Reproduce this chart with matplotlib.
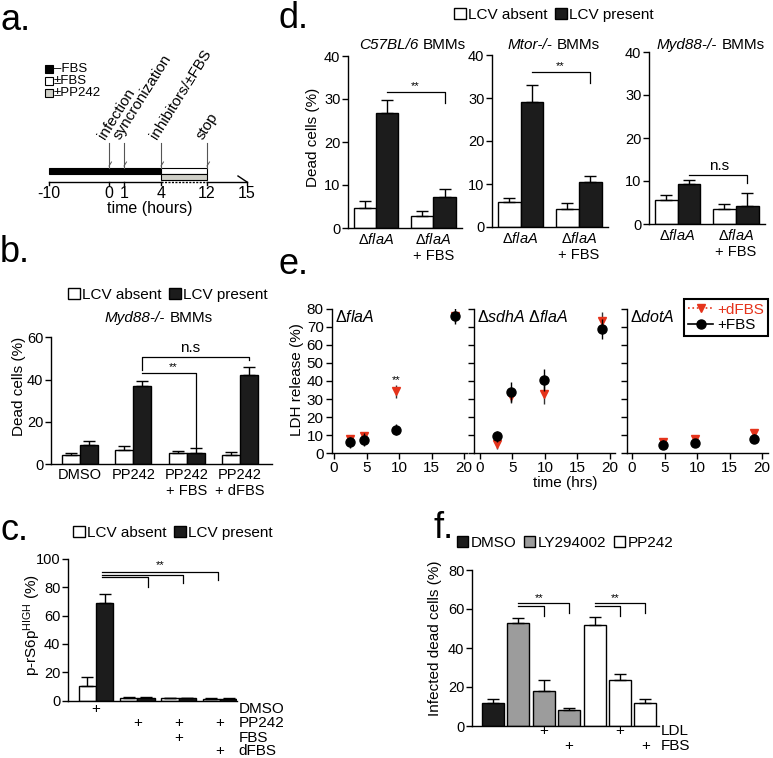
import numpy as np
import matplotlib
matplotlib.use('Agg')
import matplotlib.pyplot as plt
from matplotlib.patches import Patch, Rectangle
from matplotlib.lines import Line2D

plt.rcParams['font.family'] = ['Liberation Sans', 'DejaVu Sans']
plt.rcParams['mathtext.fontset'] = 'custom'
plt.rcParams['mathtext.rm'] = 'Liberation Sans'
plt.rcParams['mathtext.it'] = 'Liberation Sans:italic'
plt.rcParams['mathtext.bf'] = 'Liberation Sans:bold'
plt.rcParams['font.size'] = 10
plt.rcParams['axes.linewidth'] = 1.0

# ---------------- data ----------------
# a. timeline
time_ticks = [-10, 0, 1, 4, 12, 15]
event_times = [0, 1, 4, 12]
event_labels = ['infection', 'syncronization', 'inhibitors/±FBS', 'stop']
phase_labels = ['–FBS', '±FBS', '±PP242']

# b. Myd88-/- BMMs
b_groups = ['DMSO', 'PP242', 'PP242\n+ FBS', 'PP242\n+ dFBS']
b_absent = [4.4, 6.8, 5.2, 4.4]
b_absent_err = [1.1, 2.0, 1.1, 1.6]
b_present = [9.1, 37.2, 5.2, 42.2]
b_present_err = [1.9, 2.3, 2.4, 3.6]

# c. p-rS6p high
c_absent = [10.6, 2.0, 1.6, 1.3]
c_absent_err = [5.8, 0.5, 0.5, 0.4]
c_present = [68.5, 2.0, 1.6, 1.3]
c_present_err = [6.4, 0.8, 0.6, 0.5]
c_rows = ['DMSO', 'PP242', 'FBS', 'dFBS']
c_plus = [[1, 0, 0, 0], [0, 1, 1, 1], [0, 0, 1, 0], [0, 0, 0, 1]]

# d. three genotypes
d_strains = ['C57BL/6', 'Mtor-/-', 'Myd88-/-']
d_groups = ['Δ$\\mathit{flaA}$', 'Δ$\\mathit{flaA}$\n+ FBS']
d_absent = [[4.7, 2.7], [5.7, 4.3], [5.6, 3.6]]
d_absent_err = [[1.6, 1.3], [1.1, 1.3], [1.2, 1.0]]
d_present = [[26.7, 7.1], [29.1, 10.4], [9.4, 4.3]]
d_present_err = [[3.0, 2.0], [3.9, 1.5], [0.9, 3.0]]
d_sig = ['**', '**', 'n.s']

# e. LDH release
e_titles = ['Δ$\\mathit{flaA}$', 'Δ$\\mathit{sdhA}$ Δ$\\mathit{flaA}$', 'Δ$\\mathit{dotA}$']
e_time = [[2.4, 4.6, 9.6, 18.6], [2.6, 4.8, 9.8, 18.8], [4.7, 9.7, 18.7]]
e_fbs = [[5.9, 7.4, 13.0, 76.0], [9.3, 33.9, 40.7, 68.9], [4.6, 5.6, 7.8]]
e_fbs_err = [[3.2, 3.5, 3.0, 4.5], [3.0, 5.5, 6.0, 5.5], [2.5, 2.0, 2.5]]
e_dfbs = [[8.0, 9.3, 34.3, 76.0], [5.0, 31.9, 32.8, 73.1], [5.9, 7.8, 11.1]]
e_dfbs_err = [[2.0, 1.5, 3.5, 3.0], [3.0, 4.0, 5.5, 5.5], [2.0, 2.0, 1.5]]

# f. infected dead cells
f_treat = ['DMSO', 'LY294002', 'LY294002', 'LY294002', 'PP242', 'PP242', 'PP242']
f_vals = [11.8, 52.6, 18.0, 8.0, 52.0, 23.5, 11.8]
f_err = [2.2, 2.9, 5.8, 1.2, 4.0, 3.0, 2.2]
f_rows = ['LDL', 'FBS']
f_plus = [[0, 0, 1, 0, 0, 1, 0], [0, 0, 0, 1, 0, 0, 1]]

RED = '#e5331b'
BLK = '#1c1c1c'
GRAY = '#9c9c9c'
treat_color = {'DMSO': BLK, 'LY294002': GRAY, 'PP242': 'white'}

# ---------------- layout helpers ----------------
W, H = 773, 758
fig = plt.figure(figsize=(W / 100, H / 100), dpi=100)


def px_axes(x0, y0, x1, y1):
    return fig.add_axes([x0 / W, 1 - y1 / H, (x1 - x0) / W, (y1 - y0) / H])


def ft(x, y, s, **kw):
    kw.setdefault('ha', 'center')
    kw.setdefault('va', 'center')
    return fig.text(x / W, 1 - y / H, s, **kw)


def style(ax, yticks):
    for s in ['top', 'right']:
        ax.spines[s].set_visible(False)
    ax.set_yticks(yticks)
    ax.tick_params(axis='y', length=4, width=1, pad=1.5, labelsize=10.5)
    ax.tick_params(axis='x', length=0, pad=3, labelsize=10.5)


def up_err(ax, x, y, err):
    ax.errorbar(x, y, yerr=[np.zeros(len(err)), err], fmt='none', ecolor='black',
                elinewidth=1, capsize=4, capthick=1, zorder=3)


def bracket(ax, x0, x1, y, drop0=None, drop1=None):
    xs, ys = [x0, x1], [y, y]
    if drop0 is not None:
        xs, ys = [x0] + xs, [drop0] + ys
    if drop1 is not None:
        xs, ys = xs + [x1], ys + [drop1]
    ax.plot(xs, ys, color='black', lw=0.9, zorder=4, clip_on=False)


def strain_title(x_left, y, strain, size=11):
    t1 = ft(x_left, y, strain, ha='left', style='italic', fontsize=size)
    ov.annotate('BMMs', xy=(1, 0.5), xycoords=t1, xytext=(3, 0), textcoords='offset points',
                ha='left', va='center', fontsize=size)


def lcv_legend(cx, cy):
    h = [Patch(facecolor='white', edgecolor='black', lw=1),
         Patch(facecolor=BLK, edgecolor='black', lw=1)]
    fig.legend(h, ['LCV absent', 'LCV present'], loc='center', ncol=2,
               bbox_to_anchor=(cx / W, 1 - cy / H), frameon=False, fontsize=11,
               handlelength=0.75, handleheight=0.75, handletextpad=0.15,
               columnspacing=0.5, borderpad=0)


# overlay for panel a and letters
ov = fig.add_axes([0, 0, 1, 1])
ov.set_xlim(0, W)
ov.set_ylim(H, 0)
ov.axis('off')

for lx, ly, s in [(0, 30, 'a.'), (0, 262, 'b.'), (0, 540, 'c.'),
                  (279, 28, 'd.'), (279, 274, 'e.'), (433, 538, 'f.')]:
    ft(lx, ly, s, ha='left', va='baseline', fontsize=26)

# ---------------- a ----------------
hour_knots = [-10, 0, 1, 4, 12, 15]
px_knots = [49, 109, 124, 161, 207, 247]


def tx(h):
    return np.interp(h, hour_knots, px_knots)


ov.add_patch(Rectangle((tx(-10), 168), tx(4) - tx(-10), 6, fc='black', ec='black', lw=0.8))
ov.add_patch(Rectangle((tx(4), 168), tx(12) - tx(4), 6, fc='white', ec='black', lw=0.8))
ov.add_patch(Rectangle((tx(4), 174), tx(12) - tx(4), 6, fc='#cfcfc7', ec='black', lw=0.8))
ov.plot([tx(-10), tx(4)], [182, 182], color='black', lw=1)
ov.plot([tx(4), tx(12)], [182, 182], color='black', lw=1, ls=(0, (1.5, 1)))
ov.plot([tx(12), tx(15)], [182, 182], color='black', lw=1)
ov.plot([tx(15) - 9, tx(15)], [176, 182], color='black', lw=1)
for t in time_ticks:
    ov.plot([tx(t), tx(t)], [182, 185], color='black', lw=1)
    ov.text(tx(t), 194, str(t), ha='center', va='center', fontsize=11.5)
ov.text(150, 209, 'time (hours)', ha='center', va='center', fontsize=11.5)
for t, lab in zip(event_times, event_labels):
    ov.plot([tx(t), tx(t)], [143, 168], color='#555555', lw=0.8)
    ov.plot([tx(t), tx(t) + 2.5], [166, 162], color='#555555', lw=0.7)
    ov.text(tx(t) - 1, 142, lab, rotation=58, rotation_mode='anchor',
            ha='left', va='bottom', fontsize=11)
for i, (lab, fc) in enumerate(zip(phase_labels, ['black', 'white', '#cfcfc7'])):
    yy = 69 + 12 * i
    ov.add_patch(Rectangle((45, yy - 4), 8, 8, fc=fc, ec='black', lw=0.8))
    ov.text(54, yy, lab, ha='left', va='center', fontsize=9.5)

# ---------------- b ----------------
ax = px_axes(51, 337.3, 272, 464.3)
xb = np.arange(len(b_groups))
w = 0.34
ax.bar(xb - w / 2, b_absent, w, color='white', edgecolor='black', lw=1, zorder=2)
ax.bar(xb + w / 2, b_present, w, color=BLK, edgecolor='black', lw=1, zorder=2)
up_err(ax, xb - w / 2, b_absent, b_absent_err)
up_err(ax, xb + w / 2, b_present, b_present_err)
ax.set_xlim(-0.544, 3.6)
ax.set_ylim(0, 60)
style(ax, [0, 20, 40, 60])
ax.set_xticks(xb)
ax.set_xticklabels(b_groups, linespacing=1.1)
bracket(ax, 1 + w / 2, 3 + w / 2, 50.7, drop0=44.6, drop1=49.5)
ax.text(2.06, 51.5, 'n.s', ha='center', va='bottom', fontsize=11)
bracket(ax, 1 + w / 2, 2 + w / 2, 43.2, drop1=7.8)
ax.text(1.75, 43.5, '**', ha='center', va='bottom', fontsize=8)
ft(19, 386, 'Dead cells (%)', rotation=90, fontsize=11)
lcv_legend(168, 295)
strain_title(105, 318, 'Myd88-/-')

# ---------------- c ----------------
ax = px_axes(68, 558.7, 237, 700.7)
xc = np.arange(len(c_absent))
w = 0.42
ax.bar(xc - w / 2, c_absent, w, color='white', edgecolor='black', lw=1, zorder=2)
ax.bar(xc + w / 2, c_present, w, color=BLK, edgecolor='black', lw=1, zorder=2)
up_err(ax, xc - w / 2, c_absent, c_absent_err)
up_err(ax, xc + w / 2, c_present, c_present_err)
ax.set_xlim(-0.68, 3.41)
ax.set_ylim(0, 100)
style(ax, [0, 20, 40, 60, 80, 100])
ax.set_xticks([])
for k, (x_end, drop) in enumerate(zip([2.95, 2.1, 1.25], [85, 83, 80])):
    yy = 90.6 - 1.9 * k
    bracket(ax, 0.15, x_end, yy, drop1=drop)
ax.text(1.55, 92, '**', ha='center', va='bottom', fontsize=8)
trc = ax.get_xaxis_transform()
c_row_off = [8, 22, 37, 50]
for r, (lab, flags) in enumerate(zip(c_rows, c_plus)):
    yf = -c_row_off[r] / 142.0
    for i, f in enumerate(flags):
        if f:
            ax.text(xc[i], yf, '+', transform=trc, ha='center', va='center', fontsize=11)
    ax.text(3.45, yf, lab, transform=trc, ha='left', va='center', fontsize=11, clip_on=False)
ft(32, 625, 'p-rS6p$^{\\mathregular{HIGH}}$ (%)', rotation=90, fontsize=11)
lcv_legend(173, 533)

# ---------------- d ----------------
d_boxes = [(348, 56, 462, 228), (492, 55, 608, 227), (649, 52, 765, 224)]
d_title_x = [359, 508, 657]
d_sig_y = [(31.6, 29.0), (36.0, 33.5), (11.4, 9.5)]
w = 0.39
xd = np.arange(2)
for k in range(3):
    ax = px_axes(*d_boxes[k])
    ax.bar(xd - w / 2, d_absent[k], w, color='white', edgecolor='black', lw=1, zorder=2)
    ax.bar(xd + w / 2, d_present[k], w, color=BLK, edgecolor='black', lw=1, zorder=2)
    up_err(ax, xd - w / 2, d_absent[k], d_absent_err[k])
    up_err(ax, xd + w / 2, d_present[k], d_present_err[k])
    ax.set_xlim(-0.49, 1.5)
    ax.set_ylim(0, 40)
    style(ax, [0, 10, 20, 30, 40])
    ax.set_xticks(xd)
    ax.set_xticklabels(d_groups, linespacing=1.15)
    ys, yd = d_sig_y[k]
    bracket(ax, w / 2, 1 + w / 2, ys, drop1=yd)
    if d_sig[k] == '**':
        ax.text(0.68, ys + 0.3, '**', ha='center', va='bottom', fontsize=8)
    else:
        ax.text(0.72, ys + 0.5, 'n.s', ha='center', va='bottom', fontsize=11)
    strain_title(d_title_x[k], 45, d_strains[k])
ft(313, 137, 'Dead cells (%)', rotation=90, fontsize=11)
lcv_legend(554, 15)

# ---------------- e ----------------
e_boxes = [(332, 309, 467, 453), (474, 309, 615, 453), (627, 309, 768, 453)]
e_xlims = [(-0.31, 20.46), (-0.92, 20.77), (-0.77, 20.92)]
for k in range(3):
    ax = px_axes(*e_boxes[k])
    ax.errorbar(e_time[k], e_dfbs[k], yerr=e_dfbs_err[k], fmt='v', color=RED,
                ecolor='#333333', elinewidth=1, ms=6, capsize=0, zorder=3)
    ax.errorbar(e_time[k], e_fbs[k], yerr=e_fbs_err[k], fmt='o', color='black',
                ecolor='black', elinewidth=1, ms=6.5, capsize=0, zorder=4)
    ax.set_xlim(*e_xlims[k])
    ax.set_ylim(0, 80)
    for s in ['top', 'right']:
        ax.spines[s].set_visible(False)
    ax.set_yticks(np.arange(0, 81, 10))
    ax.set_xticks([0, 5, 10, 15, 20])
    ax.tick_params(length=4, width=1, pad=2, labelsize=11)
    if k > 0:
        ax.set_yticklabels([])
    ax.text(0.02, 1.0, e_titles[k], transform=ax.transAxes, ha='left', va='top', fontsize=11.5)
    if k == 0:
        ax.text(e_time[0][2], 37.5, '**', ha='center', va='bottom', fontsize=8)
    if k == 2:
        hl = [Line2D([], [], color=RED, ls=':', marker='v', ms=6, lw=1.2),
              Line2D([], [], color='black', ls='-', marker='o', ms=6.5, lw=1.2)]
        leg = fig.legend(hl, ['+dFBS', '+FBS'], loc='upper right',
                         bbox_to_anchor=(768 / W, 1 - 299 / H), borderaxespad=0,
                         fontsize=11, handlelength=1.6, handletextpad=0.3,
                         borderpad=0.25, labelspacing=0.1, fancybox=False,
                         edgecolor='black', labelcolor=[RED, 'black'], framealpha=1)
        leg.get_frame().set_linewidth(1.5)
ft(297, 380, 'LDH release (%)', rotation=90, fontsize=11)
ft(565, 483, 'time (hrs)', fontsize=11)

# ---------------- f ----------------
ax = px_axes(472, 570, 659, 726)
xf = np.arange(len(f_vals))
w = 0.87
ax.bar(xf, f_vals, w, color=[treat_color[t] for t in f_treat], edgecolor='black', lw=1, zorder=2)
up_err(ax, xf, f_vals, f_err)
ax.set_xlim(-0.83, 6.54)
ax.set_ylim(0, 80)
style(ax, [0, 20, 40, 60, 80])
ax.set_xticks([])
for s0 in [1, 4]:
    bracket(ax, s0, s0 + 2, 63.0, drop1=58.0)
    bracket(ax, s0, s0 + 1, 61.5, drop1=56.4)
    ax.text(s0 + 0.8, 63.2, '**', ha='center', va='bottom', fontsize=8)
trf = ax.get_xaxis_transform()
f_row_off = [5, 20]
for r, (lab, flags) in enumerate(zip(f_rows, f_plus)):
    yf = -f_row_off[r] / 156.0
    for i, f in enumerate(flags):
        if f:
            ax.text(xf[i], yf, '+', transform=trf, ha='center', va='center', fontsize=11)
    ax.text(6.62, yf, lab, transform=trf, ha='left', va='center', fontsize=11, clip_on=False)
ft(435, 638, 'Infected dead cells (%)', rotation=90, fontsize=11)
hf = [Patch(facecolor=treat_color[t], edgecolor='black', lw=1) for t in ['DMSO', 'LY294002', 'PP242']]
fig.legend(hf, ['DMSO', 'LY294002', 'PP242'], loc='center', ncol=3,
           bbox_to_anchor=(565 / W, 1 - 543 / H), frameon=False, fontsize=11,
           handlelength=0.75, handleheight=0.75, handletextpad=0.15,
           columnspacing=0.5, borderpad=0)

fig.savefig('out.png', dpi=100)
